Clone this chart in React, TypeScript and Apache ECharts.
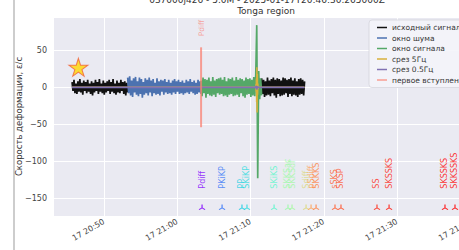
import React, { useEffect, useRef } from 'react';
import * as echarts from 'echarts';

// ---------------- data ----------------
const TITLE_LINE1 = '037000j426 - 5.0M - 2025-01-17T20:46:30.265000Z';
const TITLE_LINE2 = 'Tonga region';
const Y_NAME = 'Скорость деформации, ε/с';
const DAY_PREFIX = '17';

const X_REF = '20:50:00';
const X_START = '20:43:02';
const X_END = '21:41:28';
const Y_MIN = -174;
const Y_MAX = 95;

const SERIES_NAMES = ['исходный сигнал', 'окно шума', 'окно сигнала', 'срез 5Гц', 'срез 0.5Гц', 'первое вступление'];

const STEP_SEC = 8;
const RAW_LEFT_START = '20:45:38';
const RAW_LEFT = [
  7, -5, 10, -8, 5, -9, 8, -6, 11, -7,
  6, -10, 9, -5, 7, -8, 10, -6, 5, -9,
  8, -11, 6, -7, 10, -5, 7, -9, 11, -6,
  5, -8, 9, -10, 6, -7, 8, -5, 10, -9,
  7, -6, 11, -8, 5, -10, 9, -7, 6, -8,
  10, -5, 7, -9, 8, -11, 6, -7,
];
const NOISE_START = '20:53:14';
const NOISE = [
  13, -8, 15, -11, 9, -13, 12, -7, 14, -10,
  8, -12, 13, -9, 11, -14, 7, -10, 12, -8,
  10, -11, 13, -7, 9, -12, 11, -8, 6, -10,
  12, -9, 8, -11, 10, -6, 9, -10, 11, -7,
  7, -9, 10, -8, 6, -10, 9, -7, 11, -9,
  8, -6, 10, -9, 7, -8, 9, -10, 6, -8,
  10, -7, 8, -9, 11, -6, 7, -8, 9, -10,
  6, -9, 10, -7, 8, -9,
];
const SIGNAL_START = '21:03:15';
const SIGNAL = [
  9, -12, 13, -8, 11, -14, 10, -9, 13, -11,
  8, -12, 14, -10, 9, -13, 11, -8, 12, -10,
  13, -9, 10, -12, 14, -11, 8, -13, 12, -10,
  11, -9, 13, -12, 9, -11, 14, -10, 10, -13,
  12, -8, 11, -12, 9, -14, 13, -10, 11, -9,
  12, -13, 10, -11, 14, -12, 18, 84, -123, 22,
  -16, 12, -11,
];
const RAW_RIGHT_START = '21:11:31';
const RAW_RIGHT = [
  12, -9, 10, -13, 8, -11, 13, -10, 9, -12,
  11, -8, 13, -11, 10, -14, 12, -9, 11, -12,
  9, -11, 13, -10, 12, -8, 10, -13, 11, -9,
  13, -12, 9, -10, 12, -11, 8, -13, 11, -10,
  12, -9, 10, -11, 8,
];
const TRACE_END = '21:17:23';

const F5_SPIKE_START = '21:10:42';
const F5_STEP_SEC = 2;
const F5_SPIKE = [0, 4, -6, 12, -20, 27, -34, 18, -10, 5, -2, 0];

const F05_SPIKE_START = '21:10:43';
const F05_STEP_SEC = 4;
const F05_SPIKE = [0, 2, -3, 1, 0];

const FIRST_ARRIVAL_TIME = '21:03:15';
const FIRST_ARRIVAL_RANGE = [54, -54];
const FIRST_ARRIVAL_LABEL = 'Pdiff';
const FIRST_ARRIVAL_LABEL_Y = 80;

const ORIGIN_TIME = '20:46:30';
const ORIGIN_Y = 27;

const PHASE_NAMES = [
  'Pdiff', 'PKiKP', 'PP', 'SKiKP', 'SKiKS', 'SKKSac', 'SKKSdf', 'Sdiff',
  'pSdiff', 'SKKKS', 'sSKS', 'SKSP', 'SS', 'SKSSKS', 'SKSSKS', 'SKKSSKS',
];
const PHASE_TIMES = [
  '21:03:23', '21:06:07', '21:08:50', '21:09:31', '21:13:13', '21:15:07', '21:15:40', '21:17:35',
  '21:18:16', '21:18:57', '21:21:32', '21:22:21', '21:27:16', '21:28:55', '21:36:33', '21:37:55',
];
const PHASE_LABEL_Y = -137;
const PHASE_MARK_Y = -162;

// ---------------- styles ----------------
const PHASE_CMAP_POS = [0, 0.15, 0.3, 0.33, 0.42, 0.55, 0.57, 0.68, 0.78, 0.83, 0.88, 0.9, 0.95, 0.97, 1, 1];
const FONT = 'DejaVu Sans';
const COLORS = ['#111111', '#4C72B0', '#55A868', '#D9B13B', '#8172B3', 'rgba(250,128,114,0.75)'];

function hms(s: string) {
  const [h, m, sec] = s.split(':').map(Number);
  return h * 3600 + m * 60 + sec;
}
function toMin(s: string) {
  return (hms(s) - hms(X_REF)) / 60;
}
function secToMin(sec: number) {
  return (sec - hms(X_REF)) / 60;
}
function rainbow(x: number) {
  const r = Math.min(1, Math.abs(2 * x - 0.5));
  const g = Math.sin(Math.PI * x);
  const b = Math.cos((Math.PI * x) / 2);
  const c = (v: number) => Math.round(Math.max(0, Math.min(1, v)) * 255);
  return `rgb(${c(r)},${c(g)},${c(b)})`;
}
function trace(start: string, vals: number[], step: number) {
  const t0 = hms(start);
  return vals.map((v, i) => [secToMin(t0 + i * step), v]);
}

const TRI_UP = 'path://M0,0 L0,-10 M0,0 L-8.66,5 M0,0 L8.66,5';
const STAR = 'path://M50,0 L61,35 L98,35 L68,57 L79,91 L50,70 L21,91 L32,57 L2,35 L39,35 Z';

function buildOption() {
  const rawData = [
    ...trace(RAW_LEFT_START, RAW_LEFT, STEP_SEC),
    [null, null],
    ...trace(RAW_RIGHT_START, RAW_RIGHT, STEP_SEC),
  ];
  const noiseData = trace(NOISE_START, NOISE, STEP_SEC);
  const signalData = trace(SIGNAL_START, SIGNAL, STEP_SEC);
  const f5Data = [[toMin(RAW_LEFT_START), 0], ...trace(F5_SPIKE_START, F5_SPIKE, F5_STEP_SEC), [toMin(TRACE_END), 0]];
  const f05Data = [[toMin(RAW_LEFT_START), 0], ...trace(F05_SPIKE_START, F05_SPIKE, F05_STEP_SEC), [toMin(TRACE_END), 0]];
  const pX = toMin(FIRST_ARRIVAL_TIME);
  const phaseColors = PHASE_CMAP_POS.map(rainbow);

  const lineSeries = (name: string, data: any[], color: string, width: number) => ({
    type: 'line', name, data, color, showSymbol: false, symbol: 'none',
    lineStyle: { color, width }, connectNulls: false, silent: true, z: 2,
  });

  const xLabel = (v: number) => {
    const total = Math.round(hms(X_REF) / 60 + v);
    const h = Math.floor(total / 60);
    const m = total % 60;
    return `${DAY_PREFIX} ${h}:${String(m).padStart(2, '0')}`;
  };

  return {
    animation: false,
    textStyle: { fontFamily: FONT },
    grid: { left: 53, top: 17, width: 428, height: 199, show: true, backgroundColor: '#EAEAF2', borderWidth: 0 },
    xAxis: {
      type: 'value', min: toMin(X_START), max: toMin(X_END), splitNumber: 5,
      axisLine: { show: false }, axisTick: { show: false },
      splitLine: { show: true, lineStyle: { color: '#ffffff', width: 1 } },
      axisLabel: { showMinLabel: false, showMaxLabel: false, rotate: 30, margin: 5, fontSize: 8, color: '#444', fontFamily: FONT, formatter: xLabel },
    },
    yAxis: {
      type: 'value', min: Y_MIN, max: Y_MAX, splitNumber: 5,
      name: Y_NAME, nameLocation: 'middle', nameGap: 30, nameMoveOverlap: false,
      nameTextStyle: { fontSize: 8.5, color: '#333', fontFamily: FONT },
      axisLine: { show: false }, axisTick: { show: false },
      splitLine: { show: true, lineStyle: { color: '#ffffff', width: 1 } },
      axisLabel: { showMinLabel: false, showMaxLabel: false, margin: 6, fontSize: 8, color: '#444', fontFamily: FONT,
        formatter: (v: number) => (v < 0 ? '\u2212' + Math.abs(v) : String(v)) },
    },
    legend: {
      data: SERIES_NAMES.map((n) => ({ name: n, icon: 'rect' })),
      orient: 'vertical', left: 369, top: 20, itemWidth: 10, itemHeight: 1.5, itemGap: 1.5,
      padding: [3, 4, 3, 8],
      backgroundColor: 'rgba(244,244,249,0.9)', borderColor: '#d4d4dc', borderWidth: 0.8, borderRadius: 3,
      textStyle: { fontSize: 7.5, lineHeight: 9, color: '#333', fontFamily: FONT },
      selectedMode: false,
    },
    graphic: [
      { type: 'line', shape: { x1: 14, y1: 0, x2: 14, y2: 250 }, style: { stroke: '#cdcdcd', lineWidth: 2 }, silent: true },
      { type: 'text', x: 267, y: 0, style: { text: TITLE_LINE1, fontSize: 9, fill: '#333', fontFamily: FONT, textAlign: 'center', textVerticalAlign: 'middle' }, silent: true },
      { type: 'text', x: 266, y: 10.5, style: { text: TITLE_LINE2, fontSize: 9, fill: '#333', fontFamily: FONT, textAlign: 'center', textVerticalAlign: 'middle' }, silent: true },
    ],
    series: [
      lineSeries(SERIES_NAMES[0], rawData, COLORS[0], 1.7),
      lineSeries(SERIES_NAMES[1], noiseData, COLORS[1], 1.7),
      lineSeries(SERIES_NAMES[2], signalData, COLORS[2], 1.7),
      lineSeries(SERIES_NAMES[3], f5Data, COLORS[3], 1.5),
      lineSeries(SERIES_NAMES[4], f05Data, COLORS[4], 1.8),
      lineSeries(SERIES_NAMES[5], FIRST_ARRIVAL_RANGE.map((v) => [pX, v]), COLORS[5], 2),
      {
        type: 'scatter', name: 'first-arrival-label', silent: true, symbolSize: 1,
        itemStyle: { color: 'rgba(0,0,0,0)' },
        data: [{ value: [pX, FIRST_ARRIVAL_LABEL_Y], name: FIRST_ARRIVAL_LABEL }],
        label: { show: true, formatter: '{b}', position: 'inside', rotate: 90, align: 'center', verticalAlign: 'middle', fontSize: 7.5, color: 'rgba(250,128,114,0.85)', fontFamily: FONT },
        z: 3,
      },
      {
        type: 'scatter', name: 'origin', silent: true, symbol: STAR, symbolSize: [19, 18],
        itemStyle: { color: '#FFD700', borderColor: '#F0603A', borderWidth: 1 },
        data: [[toMin(ORIGIN_TIME), ORIGIN_Y]], z: 4,
      },
      {
        type: 'scatter', name: 'phase-labels', silent: true, symbolSize: 1,
        itemStyle: { color: 'rgba(0,0,0,0)' },
        data: PHASE_TIMES.map((t, i) => ({
          value: [toMin(t), PHASE_LABEL_Y], name: PHASE_NAMES[i],
          label: { color: phaseColors[i] },
        })),
        label: { show: true, formatter: '{b}', position: 'inside', rotate: 90, align: 'left', verticalAlign: 'middle', fontSize: 8, opacity: 0.8, fontFamily: FONT },
        labelLayout: { hideOverlap: false },
        z: 3,
      },
      {
        type: 'scatter', name: 'phase-marks', silent: true, symbol: TRI_UP, symbolSize: [6, 5],
        data: PHASE_TIMES.map((t, i) => ({
          value: [toMin(t), PHASE_MARK_Y],
          itemStyle: { color: 'rgba(0,0,0,0)', borderColor: phaseColors[i], borderWidth: 1.1, opacity: 0.85 },
        })),
        z: 3,
      },
    ],
  };
}

export default function App() {
  const ref = useRef<HTMLDivElement>(null);
  useEffect(() => {
    if (!ref.current) return;
    const chart = echarts.init(ref.current, null, { renderer: 'svg' });
    chart.setOption(buildOption() as any);
    return () => chart.dispose();
  }, []);
  return (
    <div style={{ position: 'fixed', left: 0, top: 0, width: 459, height: 250, overflow: 'hidden', background: '#fff' }}>
      <div ref={ref} style={{ width: 520, height: 250 }} />
    </div>
  );
}
